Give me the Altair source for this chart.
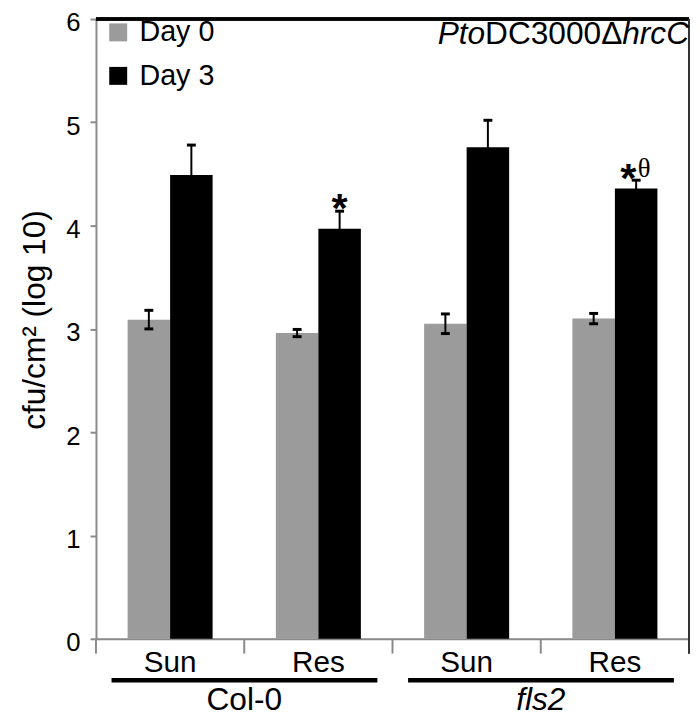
import altair as alt
import pandas as pd

# ---- data ----
genotypes = ["Col-0", "Col-0", "fls2", "fls2"]
treatments = ["Sun", "Res", "Sun", "Res"]
days = ["Day 0", "Day 3"]
day_colors = ["#9b9b9b", "#000000"]
day0_mean = [3.09, 2.96, 3.05, 3.10]
day0_err = [0.09, 0.035, 0.095, 0.05]
day3_mean = [4.49, 3.97, 4.76, 4.36]
day3_err = [0.29, 0.17, 0.26, 0.08]
y_ticks = [0, 1, 2, 3, 4, 5, 6]
group_labels = ["Col-0", "fls2"]
# significance marks: (genotype, treatment, day, star, theta)
sig_marks = [("Col-0", "Res", "Day 3", "*", ""), ("fls2", "Res", "Day 3", "*", "θ")]

FONT = "Liberation Sans"
conds = [f"{g}|{t}" for g, t in zip(genotypes, treatments)]

rows = []
for i, c in enumerate(conds):
    for d, m, e in (("Day 0", day0_mean[i], day0_err[i]), ("Day 3", day3_mean[i], day3_err[i])):
        rows.append({"cond": c, "day": d, "mean": m, "lo": m - e, "hi": m + e})
df = pd.DataFrame(rows)

sig_rows = []
for g, t, d, s, th in sig_marks:
    c = f"{g}|{t}"
    hi = df[(df.cond == c) & (df.day == d)]["hi"].iloc[0]
    sig_rows.append({"cond": c, "day": d, "hi": hi, "star": s, "theta": th})
sig_df = pd.DataFrame(sig_rows)

grp_df = pd.DataFrame({"cond": [f"{g}|Sun" for g in group_labels],
                       "cond_end": [f"{g}|Res" for g in group_labels],
                       "label": group_labels,
                       "italic": [False, True]})

W, H = 600, 627
ytitle = "cfu/cm² (log 10)"
xscale = alt.Scale(domain=conds, paddingInner=0, paddingOuter=0)
xenc = alt.X("cond:N", scale=xscale,
             axis=alt.Axis(title=None, ticks=False, tickSize=0, labelAngle=0,
                           labelExpr="split(datum.value, '|')[1]",
                           labelFontSize=30, labelPadding=9, labelColor="black",
                           domainColor="#8a8a8a", domainWidth=2, labelFont=FONT))
# two bars of 43px centred in each 150px band
xoff = alt.XOffset("day:N", sort=days, scale=alt.Scale(paddingInner=0, paddingOuter=0.744))
yscale = alt.Scale(domain=[0, 6], nice=False, zero=True)

base = alt.Chart(df)

bars = base.mark_bar().encode(
    x=xenc,
    xOffset=xoff,
    y=alt.Y("mean:Q", scale=yscale, title=ytitle,
            axis=alt.Axis(values=y_ticks, format="d", grid=False, tickSize=6,
                          tickColor="#8a8a8a", tickWidth=2, domainColor="#8a8a8a",
                          domainWidth=2, labelFontSize=26, labelPadding=10, labelOffset=4,
                          labelColor="black", labelFont=FONT, titleFont=FONT,
                          titleFontSize=32, titleFontWeight="normal", titleColor="black",
                          titleX=-52, titleY=304, titleBaseline="alphabetic")),
    color=alt.Color("day:N", sort=days, scale=alt.Scale(domain=days, range=day_colors),
                    legend=alt.Legend(title=None, orient="none", legendX=8, legendY=-1,
                                      symbolType="square", symbolSize=330,
                                      symbolStrokeWidth=0, labelFontSize=29,
                                      labelFont=FONT, labelColor="black",
                                      labelOffset=7, rowPadding=14, padding=0)),
)

err_rule = base.mark_rule(color="black", strokeWidth=2).encode(
    x=alt.X("cond:N", scale=xscale),
    xOffset=xoff,
    y=alt.Y("lo:Q", scale=yscale, title=ytitle),
    y2="hi:Q",
)

caps = base.transform_fold(["lo", "hi"], as_=["end", "val"]).mark_tick(
    orient="horizontal", color="black", thickness=3, size=9, opacity=1
).encode(
    x=alt.X("cond:N", scale=xscale),
    xOffset=xoff,
    y=alt.Y("val:Q", scale=yscale, title=ytitle),
)

sig_base = alt.Chart(sig_df)
star_plain = sig_base.transform_filter("datum.theta == ''").mark_text(
    font=FONT, fontSize=42, fontWeight="bold", dy=11, baseline="alphabetic", color="black"
).encode(x=alt.X("cond:N", scale=xscale), xOffset=xoff,
         y=alt.Y("hi:Q", scale=yscale, title=ytitle), text="star:N")
star_theta = sig_base.transform_filter("datum.theta != ''").mark_text(
    font=FONT, fontSize=42, fontWeight="bold", dy=12, dx=-8, baseline="alphabetic", color="black"
).encode(x=alt.X("cond:N", scale=xscale), xOffset=xoff,
         y=alt.Y("hi:Q", scale=yscale, title=ytitle), text="star:N")
theta = sig_base.transform_filter("datum.theta != ''").mark_text(
    font="Liberation Serif", fontSize=27, dy=-3, dx=8, baseline="alphabetic", color="black"
).encode(x=alt.X("cond:N", scale=xscale), xOffset=xoff,
         y=alt.Y("hi:Q", scale=yscale, title=ytitle), text="theta:N")

# x axis ticks at band boundaries
tick_df = pd.DataFrame({"cond": conds})
xticks = alt.Chart(tick_df).mark_rule(color="#8a8a8a", strokeWidth=2).encode(
    x=alt.X("cond:N", scale=xscale, bandPosition=0),
    y=alt.value(H), y2=alt.value(H + 15),
)

# frame: top black border, right border
top_border = alt.Chart(tick_df).mark_rule(color="black", strokeWidth=3).encode(
    x=alt.value(0), x2=alt.value(W), y=alt.value(0))
right_border = alt.Chart(tick_df).mark_rule(color="#333333", strokeWidth=1.5).encode(
    x=alt.value(W), y=alt.value(0), y2=alt.value(H + 15))

# group underlines and labels
underline = alt.Chart(grp_df).mark_rule(color="black", strokeWidth=4.5).encode(
    x=alt.X("cond:N", scale=xscale, bandPosition=0.105),
    x2=alt.X2("cond_end:N", bandPosition=0.898),
    y=alt.value(H + 42))
grp_plain = alt.Chart(grp_df).transform_filter("!datum.italic").mark_text(
    font=FONT, fontSize=32, baseline="alphabetic", color="black").encode(
    x=alt.X("cond_end:N", scale=xscale, bandPosition=0), y=alt.value(H + 72), text="label:N")
grp_ital = alt.Chart(grp_df).transform_filter("datum.italic").mark_text(
    font=FONT, fontSize=32, fontStyle="italic", baseline="alphabetic", color="black").encode(
    x=alt.X("cond_end:N", scale=xscale, bandPosition=0), y=alt.value(H + 72), text="label:N")

# title "PtoDC3000ΔhrcC" with mixed italics, right-aligned inside plot
TF = 32
t_right = 600
title_df = pd.DataFrame({"t": ["x"]})
t3 = alt.Chart(title_df).mark_text(font=FONT, fontSize=TF, fontStyle="italic", align="right",
                                   baseline="alphabetic", color="black", text="hrcC").encode(
    x=alt.value(t_right), y=alt.value(25))
t2 = alt.Chart(title_df).mark_text(font=FONT, fontSize=TF, align="right",
                                   baseline="alphabetic", color="black", text="DC3000Δ").encode(
    x=alt.value(t_right - 2.111 * TF), y=alt.value(25))
t1 = alt.Chart(title_df).mark_text(font=FONT, fontSize=TF, fontStyle="italic", align="right",
                                   baseline="alphabetic", color="black", text="Pto").encode(
    x=alt.value(t_right - (2.111 + 4.336) * TF), y=alt.value(25))

chart = alt.layer(
    bars, err_rule, caps, star_plain, star_theta, theta, xticks, top_border, right_border,
    underline, grp_plain, grp_ital, t1, t2, t3
).properties(
    width=W, height=H,
    autosize=alt.AutoSizeParams(type="none"),
    padding={"left": 89, "top": 7, "right": 3, "bottom": 80},
).configure_view(stroke=None).configure(font=FONT)

chart.save("out.html", embed_options={"renderer": "svg", "actions": False})
